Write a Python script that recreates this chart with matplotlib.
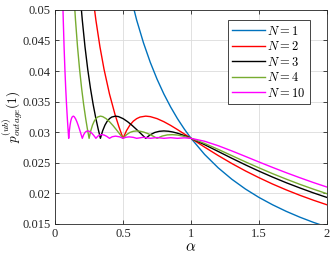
import matplotlib
matplotlib.use('Agg')
import matplotlib.pyplot as plt

# values (alpha, p_outage upper bound)
alpha_n1 = [0.55, 0.6, 0.65, 0.7, 0.75, 0.8, 0.85, 0.9, 0.95, 1.0,
            1.1, 1.2, 1.3, 1.4, 1.5, 1.6, 1.7, 1.8, 1.9, 2.0]
p_n1 = [0.05273, 0.04833, 0.04462, 0.04143, 0.03867, 0.03625, 0.03412, 0.03222, 0.03053, 0.029,
        0.02636, 0.02417, 0.02231, 0.02071, 0.01933, 0.01813, 0.01706, 0.01611, 0.01526, 0.0145]

alpha_n2 = [0.28, 0.3, 0.33, 0.36, 0.4, 0.44, 0.47, 0.5,
            0.525, 0.55, 0.575, 0.6, 0.625, 0.6667, 0.7, 0.75, 0.8, 0.85, 0.9, 0.95, 1.0,
            1.1, 1.2, 1.3, 1.4, 1.5, 1.6, 1.7, 1.8, 1.9, 2.0]
p_n2 = [0.05179, 0.04833, 0.04394, 0.04028, 0.03625, 0.03295, 0.03085, 0.029,
        0.03025, 0.03116, 0.0318, 0.03222, 0.03248, 0.03263, 0.03255, 0.03222, 0.03172, 0.03111,
        0.03043, 0.02972, 0.029,
        0.02756, 0.02618, 0.02488, 0.02367, 0.02256, 0.02152, 0.02057, 0.01969, 0.01888, 0.01813]

alpha_n3 = [0.19, 0.2, 0.22, 0.24, 0.26, 0.28, 0.3, 0.3167, 0.3333,
            0.35, 0.3667, 0.3833, 0.4, 0.4167, 0.4444, 0.4667, 0.5, 0.5333, 0.5667, 0.6, 0.6333, 0.6667,
            0.7, 0.7333, 0.7667, 0.8, 0.8333, 0.8667, 0.9, 0.9333, 0.9667, 1.0,
            1.1, 1.2, 1.3, 1.4, 1.5, 1.6, 1.7, 1.8, 1.9, 2.0]
p_n3 = [0.05088, 0.04833, 0.04394, 0.04028, 0.03718, 0.03452, 0.03222, 0.03053, 0.029,
        0.03025, 0.03116, 0.0318, 0.03222, 0.03248, 0.03263, 0.03255, 0.03222, 0.03172, 0.03111,
        0.03043, 0.02972, 0.029,
        0.02959, 0.02996, 0.03015, 0.03021, 0.03016, 0.03003, 0.02984, 0.02959, 0.02931, 0.029,
        0.02796, 0.02685, 0.02574, 0.02466, 0.02363, 0.02266, 0.02174, 0.02089, 0.02008, 0.01933]

alpha_n4 = [0.14, 0.15, 0.165, 0.18, 0.195, 0.21, 0.225, 0.2375, 0.25,
            0.2625, 0.275, 0.2875, 0.3, 0.3125, 0.3333, 0.35, 0.375, 0.4, 0.425, 0.45, 0.475, 0.5,
            0.525, 0.55, 0.575, 0.6, 0.625, 0.65, 0.675, 0.7, 0.725, 0.75,
            0.7875, 0.825, 0.8625, 0.9, 0.95, 1.0,
            1.1, 1.2, 1.3, 1.4, 1.5, 1.6, 1.7, 1.8, 1.9, 2.0]
p_n4 = [0.05179, 0.04833, 0.04394, 0.04028, 0.03718, 0.03452, 0.03222, 0.03053, 0.029,
        0.03025, 0.03116, 0.0318, 0.03222, 0.03248, 0.03263, 0.03255, 0.03222, 0.03172, 0.03111,
        0.03043, 0.02972, 0.029,
        0.02959, 0.02996, 0.03015, 0.03021, 0.03016, 0.03003, 0.02984, 0.02959, 0.02931, 0.029,
        0.02937, 0.02956, 0.0296, 0.02954, 0.02932, 0.029,
        0.02816, 0.02719, 0.02617, 0.02515, 0.02417, 0.02322, 0.02233, 0.02148, 0.02069, 0.01994]

alpha_n10 = [0.056, 0.06, 0.066, 0.072, 0.078, 0.084, 0.09, 0.095, 0.1,
             0.105, 0.11, 0.115, 0.12, 0.125, 0.1333, 0.14, 0.15, 0.16, 0.17, 0.18, 0.19, 0.2,
             0.21, 0.22, 0.23, 0.24, 0.25, 0.26, 0.27, 0.28, 0.29, 0.3,
             0.315, 0.33, 0.345, 0.36, 0.38, 0.4,
             0.42, 0.445, 0.475, 0.5, 0.52, 0.545, 0.575, 0.6,
             0.65, 0.7, 0.75, 0.8, 0.85, 0.9, 0.95, 1.0,
             1.1, 1.2, 1.3, 1.4, 1.5, 1.6, 1.7, 1.8, 1.9, 2.0]
p_n10 = [0.05179, 0.04833, 0.04394, 0.04028, 0.03718, 0.03452, 0.03222, 0.03053, 0.029,
         0.03025, 0.03116, 0.0318, 0.03222, 0.03248, 0.03263, 0.03255, 0.03222, 0.03172, 0.03111,
         0.03043, 0.02972, 0.029,
         0.02959, 0.02996, 0.03015, 0.03021, 0.03016, 0.03003, 0.02984, 0.02959, 0.02931, 0.029,
         0.02937, 0.02956, 0.0296, 0.02954, 0.02932, 0.029,
         0.02926, 0.02936, 0.02924, 0.029, 0.02917, 0.02924, 0.02916, 0.029,
         0.02917, 0.029, 0.02913, 0.029, 0.0291, 0.029, 0.02908, 0.029,
         0.02852, 0.02779, 0.02694, 0.02604, 0.02513, 0.02424, 0.02338, 0.02256, 0.02177, 0.02103]

labels = ['$N = 1$', '$N = 2$', '$N = 3$', '$N = 4$', '$N = 10$']
colors = ['#0072BD', '#FF0000', '#000000', '#77AC30', '#FF00FF']

plt.rcParams['font.family'] = 'Liberation Serif'
plt.rcParams['mathtext.fontset'] = 'cm'

fig = plt.figure(figsize=(3.34, 2.61), dpi=100)
ax = fig.add_axes([0.165, 0.142, 0.814, 0.820])

series = [(alpha_n1, p_n1), (alpha_n2, p_n2), (alpha_n3, p_n3), (alpha_n4, p_n4), (alpha_n10, p_n10)]
for (a, p), lab, col in zip(series, labels, colors):
    ax.plot(a, p, color=col, lw=1.0, label=lab)

ax.set_xlim(0, 2)
ax.set_ylim(0.015, 0.05)
ax.set_xticks([0, 0.5, 1, 1.5, 2])
ax.set_xticklabels(['0', '0.5', '1', '1.5', '2'])
yt = [0.015, 0.02, 0.025, 0.03, 0.035, 0.04, 0.045, 0.05]
ax.set_yticks(yt)
ax.set_yticklabels(['0.015', '0.02', '0.025', '0.03', '0.035', '0.04', '0.045', '0.05'])
ax.tick_params(direction='in', length=3, width=0.6, labelsize=9, colors='#262626',
               top=True, right=True, pad=3)
ax.grid(True, color='#DCDCDC', lw=0.6)
for s in ax.spines.values():
    s.set_color('#262626')
    s.set_linewidth(0.6)

ax.set_xlabel(r'$\alpha$', fontsize=11, labelpad=1)
ax.set_ylabel(r'$p^{(ub)}_{outage}(1)$', fontsize=9.5)
ax.yaxis.set_label_coords(-0.112, 0.5)

leg = ax.legend(loc='upper right', fontsize=9, handlelength=2.6, handletextpad=0.2,
                borderpad=0.35, labelspacing=0.2, fancybox=False, framealpha=1,
                bbox_to_anchor=(0.96, 0.98))
leg.get_frame().set_edgecolor('#262626')
leg.get_frame().set_linewidth(0.6)

fig.savefig('out.png', dpi=100)
